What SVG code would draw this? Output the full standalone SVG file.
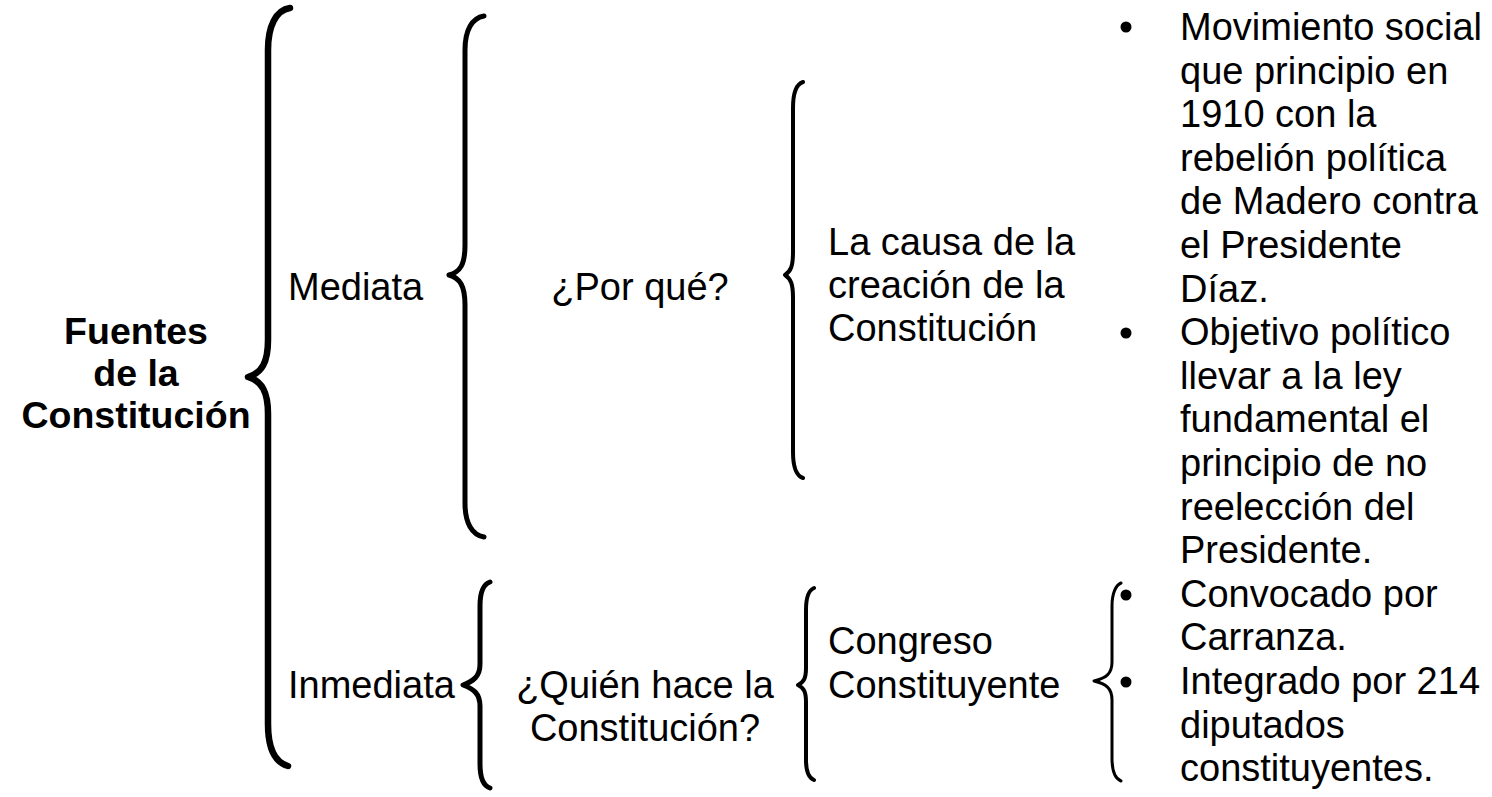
<svg xmlns="http://www.w3.org/2000/svg" width="1492" height="797" viewBox="0 0 1492 797">
<style>
text{font-family:"Liberation Sans",Arial,sans-serif;font-size:38px;fill:#000}
.b{font-weight:bold;font-size:37.5px}
.m{text-anchor:middle}
.br{fill:none;stroke:#000;stroke-linecap:round;stroke-linejoin:round}
.dot{fill:#000}
</style>
<rect width="1492" height="797" fill="#fff"/>
<g id="connectors">
<path class="br" stroke-width="6.5" d="M290,8 C276,10 268,26 268,50 L268,340 C268,362 262,373 248,377 C262,381 268,392 268,414 L268,724 C268,748 274,762 288,766"/>
<path class="br" stroke-width="5" d="M484,16 C472,18 465,30 465,50 L465,245 C465,265 460,272 449,275 C460,278 465,286 465,305 L465,503 C465,523 472,535 484,537"/>
<path class="br" stroke-width="4" d="M803,82 C797,84 793,92 793,108 L793,252 C793,266 791,271 785,275 C791,279 793,284 793,298 L793,452 C793,468 797,476 803,478"/>
<path class="br" stroke-width="5" d="M490,582 C484,584 480,592 480,606 L480,664 C480,676 474,681 463,685 C474,689 480,694 480,706 L480,764 C480,778 484,786 490,788"/>
<path class="br" stroke-width="4" d="M814,588 C809,590 806,598 806,610 L806,668 C806,678 804,682 798,685 C804,688 806,692 806,702 L806,760 C806,772 809,778 814,780"/>
<path class="br" stroke-width="3" d="M1121,583 C1116,585 1112,593 1112,606 L1112,662 C1112,674 1106,678 1094,681 C1106,684 1112,688 1112,700 L1112,758 C1112,772 1116,779 1121,781"/>
</g>
<g id="fuentes">
<text class="b m" x="136" y="344">Fuentes</text>
<text class="b m" x="136" y="386">de la</text>
<text class="b m" x="136" y="428">Constitución</text>
</g>
<g id="mediata"><text x="288" y="300">Mediata</text></g>
<g id="porque"><text class="m" x="640" y="300">¿Por qué?</text></g>
<g id="causa">
<text x="828" y="255">La causa de la</text>
<text x="828" y="298">creación de la</text>
<text x="828" y="341">Constitución</text>
</g>
<g id="bullets-mediata">
<circle class="dot" cx="1126" cy="27" r="5.5"/>
<circle class="dot" cx="1126" cy="333" r="5.5"/>
<text x="1180" y="40">Movimiento social</text>
<text x="1180" y="83.6">que principio en</text>
<text x="1180" y="127.2">1910 con la</text>
<text x="1180" y="170.8">rebelión política</text>
<text x="1180" y="214.4">de Madero contra</text>
<text x="1180" y="258">el Presidente</text>
<text x="1180" y="301.6">Díaz.</text>
<text x="1180" y="345.2">Objetivo político</text>
<text x="1180" y="388.8">llevar a la ley</text>
<text x="1180" y="432.4">fundamental el</text>
<text x="1180" y="476">principio de no</text>
<text x="1180" y="519.6">reelección del</text>
<text x="1180" y="563.2">Presidente.</text>
</g>
<g id="inmediata"><text x="288" y="698">Inmediata</text></g>
<g id="quien">
<text class="m" x="645" y="698">¿Quién hace la</text>
<text class="m" x="645" y="741">Constitución?</text>
</g>
<g id="congreso">
<text x="828" y="654">Congreso</text>
<text x="828" y="698">Constituyente</text>
</g>
<g id="bullets-inmediata">
<circle class="dot" cx="1126" cy="595" r="5.5"/>
<circle class="dot" cx="1126" cy="682" r="5.5"/>
<text x="1180" y="606.8">Convocado por</text>
<text x="1180" y="650.4">Carranza.</text>
<text x="1180" y="694">Integrado por 214</text>
<text x="1180" y="737.6">diputados</text>
<text x="1180" y="781.2">constituyentes.</text>
</g>
</svg>
